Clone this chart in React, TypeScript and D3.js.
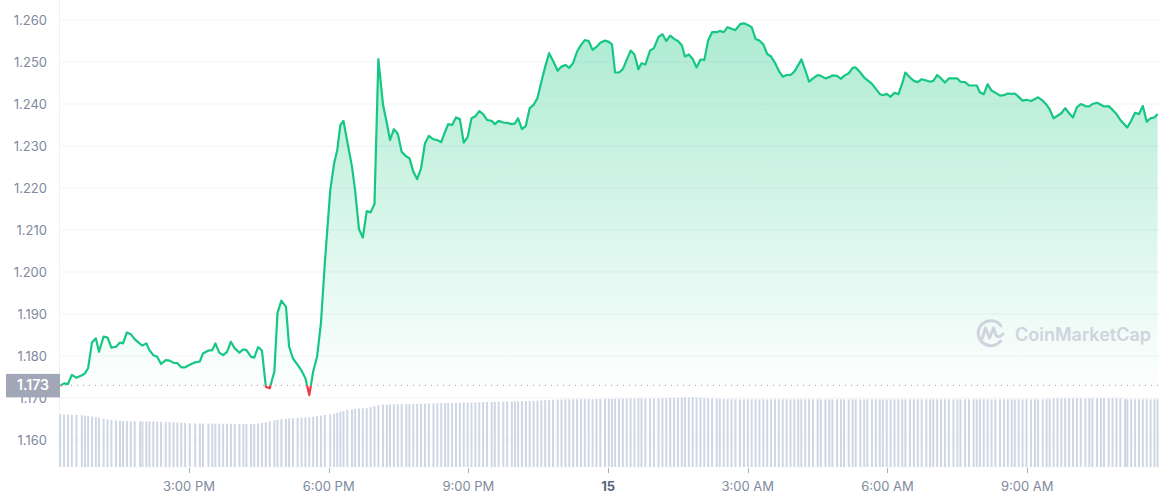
import React, { useEffect, useRef } from "react";
import * as d3 from "d3";

const W = 1161;
const H = 500;

// minutes since 00:00 on the 14th
const priceMinutes = [
  734, 739, 744, 749, 755, 762, 766, 770, 775, 780,
  784, 790, 795, 800, 806, 811, 815, 820, 825, 830,
  837, 840, 845, 849, 854, 859, 864, 870, 875, 880,
  885, 890, 895, 901, 908, 914, 918, 925, 930, 934,
  939, 944, 949, 954, 959, 965, 970, 974, 980, 984,
  989, 994, 999, 1004, 1010, 1014, 1019, 1025, 1029, 1034,
  1040, 1045, 1050, 1055, 1060, 1065, 1070, 1075, 1082, 1087,
  1091, 1095, 1099, 1104, 1110, 1114, 1119, 1124, 1129, 1134,
  1139, 1144, 1150, 1155, 1159, 1164, 1169, 1174, 1180, 1184,
  1189, 1194, 1199, 1204, 1209, 1215, 1220, 1225, 1230, 1234,
  1239, 1244, 1249, 1254, 1259, 1264, 1269, 1274, 1279, 1284,
  1290, 1294, 1299, 1305, 1310, 1316, 1320, 1324, 1329, 1334,
  1339, 1344, 1349, 1354, 1359, 1364, 1369, 1375, 1380, 1385,
  1390, 1395, 1400, 1405, 1410, 1415, 1420, 1425, 1430, 1436,
  1441, 1445, 1449, 1454, 1459, 1464, 1469, 1474, 1479, 1483,
  1488, 1494, 1499, 1505, 1510, 1515, 1520, 1525, 1530, 1535,
  1539, 1544, 1549, 1554, 1559, 1564, 1569, 1574, 1580, 1584,
  1589, 1594, 1599, 1604, 1610, 1615, 1620, 1625, 1630, 1635,
  1640, 1645, 1650, 1655, 1660, 1665, 1670, 1675, 1680, 1685,
  1689, 1694, 1699, 1704, 1710, 1714, 1720, 1725, 1729, 1735,
  1740, 1744, 1750, 1755, 1759, 1765, 1770, 1774, 1780, 1785,
  1790, 1794, 1799, 1804, 1809, 1814, 1819, 1823, 1829, 1834,
  1839, 1844, 1850, 1855, 1859, 1864, 1869, 1874, 1879, 1885,
  1890, 1894, 1900, 1905, 1911, 1915, 1919, 1924, 1929, 1934,
  1939, 1945, 1950, 1955, 1960, 1964, 1969, 1974, 1979, 1985,
  1990, 1994, 2000, 2005, 2009, 2014, 2019, 2024, 2029, 2034,
  2039, 2044, 2049, 2055, 2060, 2064, 2070, 2075, 2079, 2085,
  2090, 2095, 2100, 2106, 2109, 2114, 2119, 2124, 2129, 2134,
  2139, 2144, 2148,
];

const priceValues = [
  1.1729, 1.1735, 1.1733, 1.1755, 1.1748, 1.1754, 1.1759, 1.1771, 1.1832, 1.1842,
  1.1810, 1.1846, 1.1844, 1.1820, 1.1822, 1.1832, 1.1830, 1.1856, 1.1852, 1.1840,
  1.1829, 1.1825, 1.1830, 1.1814, 1.1802, 1.1798, 1.1781, 1.1790, 1.1789, 1.1784,
  1.1783, 1.1773, 1.1773, 1.1779, 1.1785, 1.1787, 1.1806, 1.1813, 1.1814, 1.1830,
  1.1808, 1.1802, 1.1810, 1.1834, 1.1818, 1.1808, 1.1816, 1.1814, 1.1798, 1.1796,
  1.1821, 1.1813, 1.1727, 1.1723, 1.1763, 1.1902, 1.1932, 1.1917, 1.1822, 1.1794,
  1.1779, 1.1765, 1.1747, 1.1707, 1.1763, 1.1798, 1.1878, 1.2021, 1.2195, 1.2259,
  1.2290, 1.2350, 1.2360, 1.2310, 1.2251, 1.2195, 1.2102, 1.2082, 1.2145, 1.2142,
  1.2162, 1.2507, 1.2398, 1.2354, 1.2314, 1.2340, 1.2329, 1.2286, 1.2275, 1.2271,
  1.2239, 1.2221, 1.2247, 1.2306, 1.2324, 1.2316, 1.2314, 1.2309, 1.2334, 1.2352,
  1.2350, 1.2368, 1.2364, 1.2308, 1.2321, 1.2366, 1.2371, 1.2383, 1.2376, 1.2362,
  1.2360, 1.2352, 1.2360, 1.2356, 1.2355, 1.2352, 1.2354, 1.2366, 1.2340, 1.2348,
  1.2390, 1.2398, 1.2414, 1.2453, 1.2489, 1.2521, 1.2503, 1.2479, 1.2489, 1.2493,
  1.2486, 1.2498, 1.2525, 1.2540, 1.2552, 1.2550, 1.2529, 1.2536, 1.2546, 1.2551,
  1.2548, 1.2542, 1.2475, 1.2475, 1.2483, 1.2505, 1.2527, 1.2518, 1.2483, 1.2497,
  1.2494, 1.2527, 1.2533, 1.2560, 1.2566, 1.2550, 1.2563, 1.2555, 1.2550, 1.2540,
  1.2513, 1.2518, 1.2507, 1.2487, 1.2506, 1.2505, 1.2552, 1.2571, 1.2571, 1.2574,
  1.2571, 1.2583, 1.2579, 1.2576, 1.2590, 1.2592, 1.2588, 1.2583, 1.2555, 1.2551,
  1.2542, 1.2519, 1.2513, 1.2498, 1.2479, 1.2465, 1.2469, 1.2469, 1.2477, 1.2493,
  1.2506, 1.2481, 1.2453, 1.2461, 1.2469, 1.2467, 1.2461, 1.2464, 1.2468, 1.2467,
  1.2460, 1.2467, 1.2473, 1.2486, 1.2487, 1.2475, 1.2463, 1.2457, 1.2448, 1.2436,
  1.2424, 1.2421, 1.2424, 1.2417, 1.2427, 1.2423, 1.2449, 1.2475, 1.2463, 1.2455,
  1.2452, 1.2459, 1.2456, 1.2453, 1.2455, 1.2469, 1.2461, 1.2451, 1.2461, 1.2461,
  1.2461, 1.2453, 1.2452, 1.2444, 1.2444, 1.2444, 1.2428, 1.2423, 1.2447, 1.2432,
  1.2427, 1.2420, 1.2421, 1.2425, 1.2424, 1.2425, 1.2417, 1.2408, 1.2410, 1.2407,
  1.2412, 1.2416, 1.2408, 1.2398, 1.2387, 1.2366, 1.2372, 1.2378, 1.2390, 1.2378,
  1.2368, 1.2392, 1.2400, 1.2395, 1.2394, 1.2400, 1.2403, 1.2398, 1.2394, 1.2395,
  1.2386, 1.2376, 1.2362, 1.2350, 1.2344, 1.2360, 1.2379, 1.2376, 1.2395, 1.2358,
  1.2366, 1.2368, 1.2376,
];

// 24h volume (millions USD)
const volumeValues = [
  542, 540, 538, 536, 535, 532, 528, 524, 518, 512,
  506, 498, 490, 484, 478, 475, 473, 472, 471, 470,
  469, 469, 468, 468, 467, 466, 465, 463, 462, 460,
  458, 455, 452, 450, 448, 447, 447, 446, 446, 446,
  445, 445, 445, 444, 444, 444, 443, 443, 443, 444,
  446, 452, 460, 470, 480, 486, 490, 495, 500, 503,
  506, 508, 510, 512, 516, 522, 528, 535, 542, 550,
  558, 566, 575, 586, 592, 597, 600, 603, 606, 615,
  625, 635, 640, 642, 644, 645, 645, 646, 647, 648,
  649, 650, 651, 652, 653, 654, 655, 656, 657, 658,
  659, 660, 661, 662, 663, 664, 665, 666, 667, 668,
  669, 670, 671, 672, 673, 674, 675, 676, 677, 678,
  679, 680, 682, 685, 688, 690, 692, 694, 695, 696,
  696, 697, 697, 698, 698, 699, 699, 700, 700, 700,
  701, 701, 701, 702, 702, 702, 702, 703, 703, 703,
  703, 704, 705, 706, 707, 708, 710, 711, 713, 714,
  716, 717, 717, 716, 712, 708, 706, 704, 702, 700,
  699, 698, 697, 697, 696, 696, 696, 696, 696, 696,
  696, 696, 696, 696, 696, 696, 696, 696, 696, 696,
  696, 696, 696, 696, 696, 696, 696, 696, 696, 696,
  696, 696, 696, 696, 696, 696, 696, 696, 696, 696,
  696, 696, 696, 696, 696, 696, 696, 696, 696, 696,
  696, 696, 696, 696, 696, 696, 696, 696, 696, 696,
  696, 696, 696, 696, 696, 696, 696, 696, 696, 696,
  696, 696, 696, 696, 696, 696, 696, 696, 696, 696,
  696, 696, 696, 697, 698, 705, 707, 707, 707, 707,
  707, 707, 707, 707, 707, 707, 707, 707, 707, 707,
  707, 707, 707, 698, 696, 696, 696, 696, 696, 696,
  696, 696, 696,
];

const yTickValues = [1.16, 1.17, 1.18, 1.19, 1.2, 1.21, 1.22, 1.23, 1.24, 1.25, 1.26];
const baselinePrice = 1.173;
const baselineLabel = "1.173";
const domainStartMinute = 732.5;
const domainEndMinute = 2152.4;
const dayOrigin = new Date(2022, 5, 14, 0, 0, 0);
const watermarkText = "CoinMarketCap";

const toDate = (m: number) => new Date(dayOrigin.getTime() + m * 60000);

export default function App() {
  const ref = useRef<SVGSVGElement>(null);

  useEffect(() => {
    const svg = d3.select(ref.current);
    svg.selectAll("*").remove();

    const left = 59;
    const right = W;
    const font = "Inter, 'Noto Sans', sans-serif";

    const data = priceMinutes.map((m, i) => ({
      t: toDate(m),
      p: priceValues[i],
      v: volumeValues[i],
    }));

    const x = d3.scaleTime().domain([toDate(domainStartMinute), toDate(domainEndMinute)]).range([left, right]);
    const y = d3.scaleLinear().domain([1.16, 1.26]).range([440, 20]);
    const yv = d3.scaleLinear().domain([0, 720]).range([467, 397]);
    const yb = y(baselinePrice);

    const defs = svg.append("defs");
    const gGreen = defs
      .append("linearGradient")
      .attr("id", "gGreen")
      .attr("gradientUnits", "userSpaceOnUse")
      .attr("x1", 0).attr("x2", 0)
      .attr("y1", 20).attr("y2", yb);
    gGreen.append("stop").attr("offset", 0).attr("stop-color", "#16c784").attr("stop-opacity", 0.36);
    gGreen.append("stop").attr("offset", 1).attr("stop-color", "#16c784").attr("stop-opacity", 0.01);
    const gRed = defs
      .append("linearGradient")
      .attr("id", "gRed")
      .attr("gradientUnits", "userSpaceOnUse")
      .attr("x1", 0).attr("x2", 0)
      .attr("y1", yb).attr("y2", 400);
    gRed.append("stop").attr("offset", 0).attr("stop-color", "#ea3943").attr("stop-opacity", 0.02);
    gRed.append("stop").attr("offset", 1).attr("stop-color", "#ea3943").attr("stop-opacity", 0.2);

    defs.append("clipPath").attr("id", "above")
      .append("rect").attr("x", 0).attr("y", 0).attr("width", W).attr("height", yb);
    defs.append("clipPath").attr("id", "below")
      .append("rect").attr("x", 0).attr("y", yb).attr("width", W).attr("height", H - yb);

    // grid
    svg.append("g")
      .selectAll("line")
      .data(yTickValues)
      .join("line")
      .attr("x1", left).attr("x2", right)
      .attr("y1", (d) => y(d)).attr("y2", (d) => y(d))
      .attr("stroke", "#f1f3f6").attr("stroke-width", 1);

    svg.append("line")
      .attr("x1", left + 0.5).attr("x2", left + 0.5)
      .attr("y1", 0).attr("y2", 467)
      .attr("stroke", "#eff2f5");

    // y labels
    svg.append("g")
      .selectAll("text")
      .data(yTickValues)
      .join("text")
      .attr("x", 47)
      .attr("y", (d) => y(d))
      .attr("dy", "0.35em")
      .attr("text-anchor", "end")
      .attr("font-family", font)
      .attr("font-size", 13)
      .attr("fill", "#808a9d")
      .text((d) => d3.format(".3f")(d));

    // volume bars
    svg.append("g")
      .selectAll("rect")
      .data(data)
      .join("rect")
      .attr("x", (d) => x(d.t) - 1)
      .attr("width", 2)
      .attr("y", (d) => yv(d.v))
      .attr("height", (d) => yv(0) - yv(d.v))
      .attr("fill", "#cfd6e4");

    // areas
    const area = d3.area<any>().x((d) => x(d.t)).y0(yb).y1((d) => y(d.p));
    svg.append("path").datum(data).attr("d", area).attr("fill", "url(#gGreen)").attr("clip-path", "url(#above)");
    svg.append("path").datum(data).attr("d", area).attr("fill", "url(#gRed)").attr("clip-path", "url(#below)");

    // baseline dotted
    svg.append("line")
      .attr("x1", left).attr("x2", right)
      .attr("y1", yb).attr("y2", yb)
      .attr("stroke", "#9aa2b1")
      .attr("stroke-width", 1)
      .attr("stroke-dasharray", "1 5");

    // price line
    const line = d3.line<any>().x((d) => x(d.t)).y((d) => y(d.p));
    svg.append("path").datum(data).attr("d", line)
      .attr("fill", "none").attr("stroke", "#16c784").attr("stroke-width", 2.2)
      .attr("stroke-linejoin", "round").attr("clip-path", "url(#above)");
    svg.append("path").datum(data).attr("d", line)
      .attr("fill", "none").attr("stroke", "#ea3943").attr("stroke-width", 2.2)
      .attr("stroke-linejoin", "round").attr("clip-path", "url(#below)");

    // baseline label
    svg.append("rect")
      .attr("x", 6).attr("y", yb - 11.5).attr("width", 54).attr("height", 23.5)
      .attr("fill", "#a1a7b6");
    svg.append("text")
      .attr("x", 33).attr("y", yb).attr("dy", "0.36em")
      .attr("text-anchor", "middle")
      .attr("font-family", font).attr("font-size", 14).attr("font-weight", 600)
      .attr("fill", "#ffffff")
      .text(baselineLabel);

    // x axis
    const ticks = x.ticks(d3.timeHour.every(3) as any);
    const fmt = (d: Date) => (d.getHours() === 0 ? d3.timeFormat("%-d")(d) : d3.timeFormat("%-I:%M %p")(d));
    const gx = svg.append("g");
    gx.selectAll("line")
      .data(ticks)
      .join("line")
      .attr("x1", (d) => Math.round(x(d)) + 0.5).attr("x2", (d) => Math.round(x(d)) + 0.5)
      .attr("y1", 468).attr("y2", 473)
      .attr("stroke", "#a6b0c3");
    gx.selectAll("text")
      .data(ticks)
      .join("text")
      .attr("x", (d) => x(d))
      .attr("y", 491)
      .attr("text-anchor", "middle")
      .attr("font-family", font)
      .attr("font-size", 13)
      .attr("font-weight", (d) => (d.getHours() === 0 ? 700 : 400))
      .attr("fill", (d) => (d.getHours() === 0 ? "#58667e" : "#808a9d"))
      .text((d) => fmt(d));

    // watermark
    const wm = svg.append("g").attr("opacity", 0.85);
    wm.append("path")
      .attr("d", "M1000.5,341 A12.5,12.5 0 1 1 1001,326")
      .attr("fill", "none").attr("stroke", "#c9ceda").attr("stroke-width", 3).attr("stroke-linecap", "round");
    wm.append("path")
      .attr("d", "M982,339 L985.5,328 L989.5,338 L993.5,328 L996,335 Q998,339 1003,334")
      .attr("fill", "none").attr("stroke", "#c9ceda").attr("stroke-width", 3)
      .attr("stroke-linejoin", "round").attr("stroke-linecap", "round");
    wm.append("text")
      .attr("x", 1015).attr("y", 335).attr("dy", "0.35em")
      .attr("font-family", font).attr("font-size", 18).attr("font-weight", 600)
      .attr("fill", "#c9ceda")
      .text(watermarkText);
  }, []);

  return (
    <div style={{ position: "absolute", left: 0, top: 0, background: "#fff" }}>
      <svg ref={ref} width={W} height={H} style={{ display: "block" }} />
    </div>
  );
}
